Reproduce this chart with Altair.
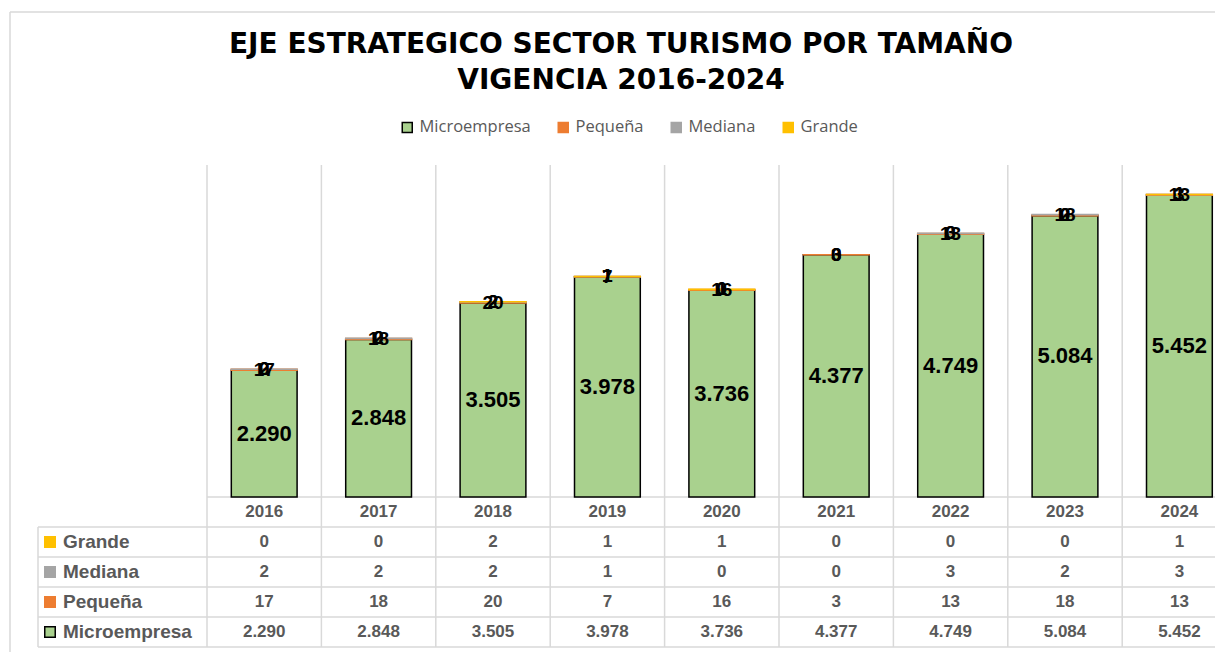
import altair as alt
import pandas as pd

# ---------------- data ----------------
years = ["2016", "2017", "2018", "2019", "2020", "2021", "2022", "2023", "2024"]
micro = [2290, 2848, 3505, 3978, 3736, 4377, 4749, 5084, 5452]
pequena = [17, 18, 20, 7, 16, 3, 13, 18, 13]
mediana = [2, 2, 2, 1, 0, 0, 3, 2, 3]
grande = [0, 0, 2, 1, 1, 0, 0, 0, 1]
sizes = ["Microempresa", "Pequeña", "Mediana", "Grande"]
table_rows = ["Grande", "Mediana", "Pequeña", "Microempresa"]
title_lines = ["EJE ESTRATEGICO SECTOR TURISMO POR TAMAÑO", "VIGENCIA 2016-2024"]

colors = ["#A9D18E", "#ED7D31", "#A5A5A5", "#FFC000"]
strokes = ["#000000", "#ED7D31", "#A5A5A5", "#FFC000"]

series = {"Microempresa": micro, "Pequeña": pequena, "Mediana": mediana, "Grande": grande}
recs = []
for k, name in enumerate(sizes):
    for yr, v in zip(years, series[name]):
        recs.append({"year": yr, "size": name, "row": name, "v": v, "idx": k})
df = pd.DataFrame(recs)
df_years = pd.DataFrame({"year": years, "row": ["Año"] * len(years)})
df_rows = pd.DataFrame({"row": table_rows, "size": table_rows})
df_hl = pd.DataFrame({"row": table_rows})
df_top = pd.DataFrame({"row": ["Año"]})
df_bot = pd.DataFrame({"row": ["Microempresa"]})
df_one = pd.DataFrame({"k": [0]})

# ---------------- geometry / style ----------------
W = 1008
STEP = 114.4
H_PLOT = 332
ROW_H = 30
H = H_PLOT + 5 * ROW_H
GRID = "#D9D9D9"
TXT = "#595959"

row_domain = ["Año"] + table_rows
xs = alt.Scale(domain=years, range=[0, STEP * len(years)], paddingInner=0, paddingOuter=0)
ys_q = alt.Scale(domain=[0, 6000], range=[H_PLOT, 0])
ys_r = alt.Scale(domain=row_domain, range=[H_PLOT, H], paddingInner=0, paddingOuter=0)
fill_scale = alt.Scale(domain=sizes, range=colors)
stroke_scale = alt.Scale(domain=sizes, range=strokes)

leg = alt.Legend(
    title=None, orient="none", legendX=192, legendY=-46, direction="horizontal",
    symbolType="square", symbolSize=100, symbolStrokeWidth=1.5,
    labelFont="Open Sans", labelFontSize=16.5, labelColor=TXT,
    columnPadding=24, labelOffset=4,
)
fill_enc = alt.Fill("size:N", scale=fill_scale, legend=leg)
stroke_enc = alt.Stroke("size:N", scale=stroke_scale, legend=leg)
X = alt.X("year:N", scale=xs, axis=None)

stacked = (
    alt.Chart(df)
    .transform_stack(stack="v", groupby=["year"], as_=["y0", "y1"],
                     sort=[alt.SortField("idx", order="ascending")])
    .transform_calculate(mid="(datum.y0 + datum.y1) / 2",
                         lab="replace(format(datum.v, ','), ',', '.')")
)

bars = stacked.transform_filter("datum.v > 0").mark_bar(
    width=alt.RelativeBandSize(0.575), strokeWidth=1.5
).encode(
    x=X,
    y=alt.Y("y0:Q", scale=ys_q, axis=None),
    y2="y1:Q",
    fill=fill_enc,
    stroke=stroke_enc,
)

lab_micro = stacked.transform_filter("datum.idx == 0").mark_text(
    font="Liberation Sans", fontWeight="bold", fontSize=22, color="#000000", baseline="middle"
).encode(x=X, y=alt.Y("mid:Q", scale=ys_q, axis=None), text="lab:N")

lab_small = stacked.transform_filter("datum.idx > 0").mark_text(
    font="Liberation Sans", fontWeight="bold", fontSize=19, color="#000000", baseline="middle"
).encode(x=X, y=alt.Y("mid:Q", scale=ys_q, axis=None), text="lab:N")

# ---------------- title (two centred lines) ----------------
df_title = pd.DataFrame({"line": title_lines, "n": [0, 1]})
title1 = alt.Chart(df_title).transform_filter("datum.n == 0").mark_text(
    font="DejaVu Sans", fontWeight="bold", fontSize=28, color="#000000",
    align="center", baseline="alphabetic"
).encode(x=alt.value(414), y=alt.value(-112), text="line:N")
title2 = alt.Chart(df_title).transform_filter("datum.n == 1").mark_text(
    font="DejaVu Sans", fontWeight="bold", fontSize=28, color="#000000",
    align="center", baseline="alphabetic"
).encode(x=alt.value(414), y=alt.value(-76), text="line:N")

# ---------------- table ----------------
Yr = alt.Y("row:N", scale=ys_r, axis=None)

vlines = alt.Chart(pd.DataFrame({"year": years})).mark_rule(color=GRID, strokeWidth=1.5).encode(
    x=alt.X("year:N", scale=xs, axis=None, bandPosition=0), y=alt.value(0), y2=alt.value(H)
)
hl_rows = alt.Chart(df_hl).mark_rule(color=GRID, strokeWidth=1.5).encode(
    y=alt.Y("row:N", scale=ys_r, axis=None, bandPosition=0), x=alt.value(-169), x2=alt.value(W + 20)
)
hl_top = alt.Chart(df_top).mark_rule(color=GRID, strokeWidth=1.5).encode(
    y=alt.Y("row:N", scale=ys_r, axis=None, bandPosition=0), x=alt.value(0), x2=alt.value(W + 20)
)
hl_bot = alt.Chart(df_bot).mark_rule(color=GRID, strokeWidth=1.5).encode(
    y=alt.Y("row:N", scale=ys_r, axis=None, bandPosition=1), x=alt.value(-169), x2=alt.value(W + 20)
)
vl_left = alt.Chart(df_one).mark_rule(color=GRID, strokeWidth=1.5).encode(
    x=alt.value(-169), y=alt.value(H_PLOT + ROW_H), y2=alt.value(H)
)
border_l = alt.Chart(df_one).mark_rule(color=GRID, strokeWidth=1.5).encode(
    x=alt.value(-197), y=alt.value(-153), y2=alt.value(H + 20)
)
border_t = alt.Chart(df_one).mark_rule(color=GRID, strokeWidth=1.5).encode(
    y=alt.value(-153), x=alt.value(-197), x2=alt.value(W + 20)
)

header = alt.Chart(df_years).mark_text(
    font="Liberation Sans", fontWeight="bold", fontSize=17, color=TXT, baseline="middle"
).encode(x=X, y=Yr, text="year:N")

cells = alt.Chart(df).transform_calculate(
    lab="replace(format(datum.v, ','), ',', '.')"
).mark_text(
    font="Liberation Sans", fontWeight="bold", fontSize=17, color=TXT, baseline="middle"
).encode(x=X, y=Yr, text="lab:N")

row_labels = alt.Chart(df_rows).mark_text(
    font="Liberation Sans", fontWeight="bold", fontSize=19, color=TXT, align="left", baseline="middle"
).encode(x=alt.value(-144), y=Yr, text="row:N")

row_keys = alt.Chart(df_rows).mark_square(size=110, strokeWidth=1.5, opacity=1).encode(
    x=alt.value(-157), y=Yr, fill=fill_enc, stroke=stroke_enc
)

chart = (
    alt.layer(
        border_l, border_t, vlines, hl_rows, hl_top, hl_bot, vl_left,
        bars, lab_micro, lab_small, header, cells, row_labels, row_keys,
        title1, title2,
    )
    .resolve_scale(y="independent")
    .properties(
        width=W,
        height=H,
        autosize=alt.AutoSizeParams(type="none"),
        padding={"left": 199, "top": 157, "right": 0, "bottom": 5},
    )
    .configure_view(stroke="transparent")
)

chart.save("out.html", embed_options={"renderer": "svg", "actions": False})
